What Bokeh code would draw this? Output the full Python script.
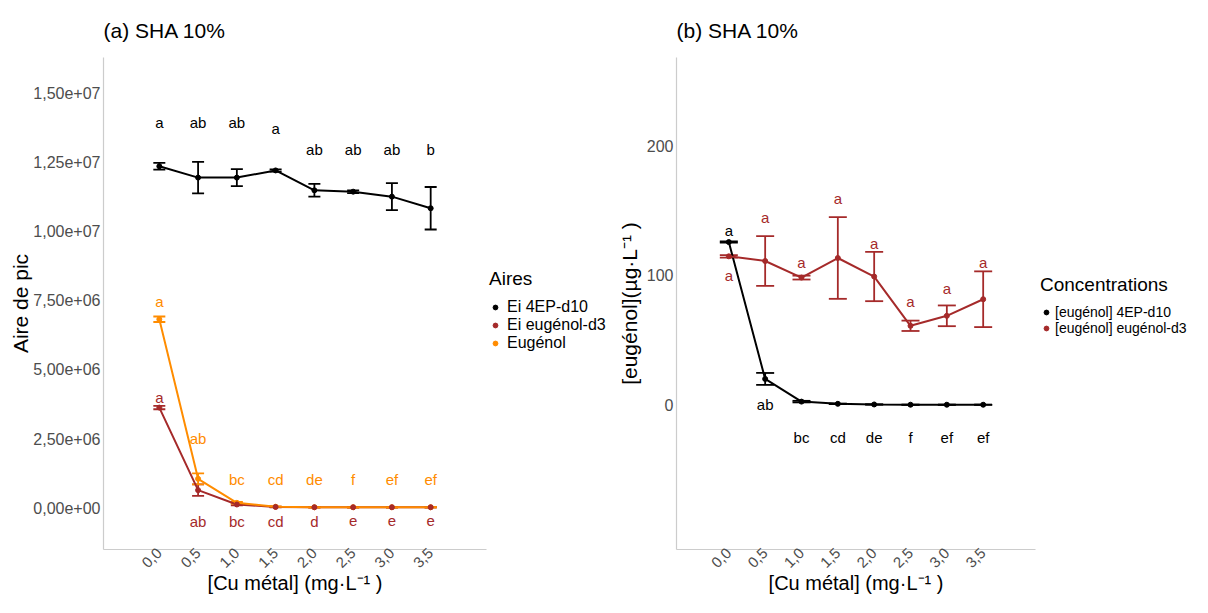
import math
from bokeh.plotting import figure
from bokeh.layouts import row
from bokeh.models import (ColumnDataSource, Whisker, TeeHead, FixedTicker, Legend,
                          LegendItem, Range1d)
from bokeh.embed import file_html
from bokeh.resources import INLINE
from bokeh.core.properties import value

# ---------------- data ----------------
cu = [0.0, 0.5, 1.0, 1.5, 2.0, 2.5, 3.0, 3.5]
cu_tick_labels = ["0,0", "0,5", "1,0", "1,5", "2,0", "2,5", "3,0", "3,5"]

# panel (a) : peak areas
ei_4ep_mean = [12.36e6, 11.95e6, 11.95e6, 12.21e6, 11.49e6, 11.44e6, 11.26e6, 10.84e6]
ei_4ep_sd = [0.12e6, 0.57e6, 0.31e6, 0.04e6, 0.23e6, 0.05e6, 0.49e6, 0.77e6]
ei_eug_mean = [3.62e6, 0.63e6, 0.11e6, 0.02e6, 0.01e6, 0.01e6, 0.01e6, 0.01e6]
ei_eug_sd = [0.06e6, 0.21e6, 0.03e6, 0.01e6, 0.0, 0.0, 0.0, 0.0]
eugenol_mean = [6.82e6, 1.04e6, 0.17e6, 0.03e6, 0.01e6, 0.01e6, 0.01e6, 0.01e6]
eugenol_sd = [0.10e6, 0.20e6, 0.03e6, 0.01e6, 0.0, 0.0, 0.0, 0.0]

ei_4ep_letters = ["a", "ab", "ab", "a", "ab", "ab", "ab", "b"]
ei_4ep_letters_y = [13.96e6, 13.96e6, 13.96e6, 13.72e6, 12.96e6, 12.96e6, 12.96e6, 12.96e6]
eugenol_letters = ["a", "ab", "bc", "cd", "de", "f", "ef", "ef"]
eugenol_letters_y = [7.48e6, 2.50e6, 1.01e6, 1.01e6, 1.01e6, 1.01e6, 1.01e6, 1.01e6]
ei_eug_letters = ["a", "ab", "bc", "cd", "d", "e", "e", "e"]
ei_eug_letters_y = [4.0e6, -0.49e6, -0.49e6, -0.49e6, -0.49e6, -0.49e6, -0.49e6, -0.49e6]

area_ticks = [0, 2500000, 5000000, 7500000, 10000000, 12500000, 15000000]
area_tick_labels = ["0,00e+00", "2,50e+06", "5,00e+06", "7,50e+06",
                    "1,00e+07", "1,25e+07", "1,50e+07"]

# panel (b) : concentrations
conc_4ep_mean = [125.6, 20.0, 2.5, 0.8, 0.3, 0.1, 0.1, 0.1]
conc_4ep_sd = [0.5, 4.6, 0.6, 0.2, 0.1, 0.0, 0.0, 0.0]
conc_eug_mean = [114.6, 111.0, 98.2, 113.3, 99.0, 61.0, 68.7, 81.5]
conc_eug_sd = [1.0, 19.2, 1.5, 31.5, 19.0, 4.0, 8.0, 21.5]

conc_4ep_letters = ["a", "ab", "bc", "cd", "de", "f", "ef", "ef"]
conc_4ep_letters_y = [134.6, 0.0, -24.9, -24.9, -24.9, -24.9, -24.9, -24.9]
conc_eug_letters = ["a", "a", "a", "a", "a", "a", "a", "a"]
conc_eug_letters_y = [99.5, 144.6, 109.5, 159.5, 124.8, 79.5, 89.7, 109.5]

conc_ticks = [0, 100, 200]
conc_tick_labels = ["0", "100", "200"]

legend_a_labels = ["Ei 4EP-d10", "Ei eugénol-d3", "Eugénol"]
legend_b_labels = ["[eugénol] 4EP-d10", "[eugénol] eugénol-d3"]

# ---------------- style ----------------
FONT = "Liberation Sans"
BLACK = "#000000"
RED = "#A52A2A"
ORANGE = "#FF8C00"
AXIS_GRAY = "#CCCCCC"
TICK_GRAY = "#4D4D4D"
H = 597


def make_fig(width, min_left, min_right, yr, title, ticks, tick_labels, ylabel,
             ylabel_standoff):
    p = figure(width=width, height=H, x_range=Range1d(-0.72, 4.22),
               y_range=Range1d(*yr), output_backend="svg", toolbar_location=None,
               min_border_left=min_left, min_border_right=min_right,
               min_border_top=57, min_border_bottom=20, title=title)
    p.title.align = "left"
    p.title.text_font = FONT
    p.title.text_font_size = "21px"
    p.title.text_font_style = "normal"
    p.title.text_color = "#000000"
    p.title.standoff = 31
    p.grid.visible = False
    p.outline_line_color = None
    p.background_fill_color = "white"
    p.border_fill_color = "white"

    p.xaxis.ticker = FixedTicker(ticks=cu)
    p.xaxis.major_label_overrides = {c: l for c, l in zip(cu, cu_tick_labels)}
    p.xaxis.major_label_orientation = math.pi / 4
    p.xaxis.axis_label = "[Cu métal] (mg·L⁻¹ )"

    p.yaxis.ticker = FixedTicker(ticks=ticks)
    p.yaxis.major_label_overrides = {t: l for t, l in zip(ticks, tick_labels)}
    p.yaxis.axis_label = ylabel

    for ax in p.axis:
        ax.axis_line_color = AXIS_GRAY
        ax.axis_line_width = 1.2
        ax.major_tick_line_color = None
        ax.minor_tick_line_color = None
        ax.major_tick_in = 0
        ax.major_tick_out = 0
        ax.major_label_text_font = FONT
        ax.major_label_text_font_size = "16px"
        ax.major_label_text_color = TICK_GRAY
        ax.major_label_standoff = 3
        ax.axis_label_text_font = FONT
        ax.axis_label_text_font_size = "21px"
        ax.axis_label_text_font_style = "normal"
        ax.axis_label_text_color = "#000000"
    p.yaxis.axis_label_standoff = ylabel_standoff
    p.xaxis.major_label_text_font_size = "15px"
    p.xaxis.axis_label_text_font_size = "20px"
    p.xaxis.major_label_standoff = 1
    p.xaxis.axis_label_standoff = -3
    return p


def add_series(p, mean, sd, color, cap):
    src = ColumnDataSource(dict(
        x=cu, y=mean,
        upper=[m + s for m, s in zip(mean, sd)],
        lower=[m - s for m, s in zip(mean, sd)]))
    p.line("x", "y", source=src, line_color=color, line_width=2)
    w = Whisker(base="x", upper="upper", lower="lower", source=src,
                line_color=color, line_width=1.8,
                upper_head=TeeHead(size=cap, line_color=color, line_width=1.8),
                lower_head=TeeHead(size=cap, line_color=color, line_width=1.8))
    p.add_layout(w)
    return src


def add_points(p, src, color):
    return p.scatter("x", "y", source=src, size=5, fill_color=color, line_color=color)


def add_letters(p, letters, ys, color):
    p.text(x=cu, y=ys, text=letters, text_align="center", text_baseline="middle",
           text_font=value(FONT), text_font_size="15px", text_color=color)


def legend_fig(width, labels, colors, title, loc, label_size, standoff, title_standoff):
    lf = figure(width=width, height=H, x_range=Range1d(0, 1), y_range=Range1d(0, 1),
                x_axis_type=None, y_axis_type=None, output_backend="svg",
                toolbar_location=None, min_border=0)
    lf.grid.visible = False
    lf.outline_line_color = None
    items = []
    for lab, col in zip(labels, colors):
        r = lf.scatter(x=[-5], y=[-5], size=5, fill_color=col, line_color=col)
        items.append(LegendItem(label=lab, renderers=[r]))
    leg = Legend(items=items, title=title, location=loc)
    leg.title_text_font = FONT
    leg.title_text_font_size = "19px"
    leg.title_text_font_style = "normal"
    leg.title_text_color = "#000000"
    leg.title_standoff = title_standoff
    leg.label_text_font = FONT
    leg.label_text_font_size = label_size
    leg.label_text_color = "#000000"
    leg.glyph_width = 12
    leg.glyph_height = 12
    leg.label_height = 10
    leg.label_standoff = standoff
    leg.spacing = 0
    leg.padding = 0
    leg.margin = 0
    leg.border_line_color = None
    leg.background_fill_alpha = 0
    lf.add_layout(leg)
    return lf


# ---------------- panel (a) ----------------
p1 = make_fig(488, 103, 2, (-1.52e6, 16.3e6), "(a) SHA 10%",
              area_ticks, area_tick_labels, "Aire de pic", -2)
s_black = add_series(p1, ei_4ep_mean, ei_4ep_sd, BLACK, 12)
s_red = add_series(p1, ei_eug_mean, ei_eug_sd, RED, 12)
s_orange = add_series(p1, eugenol_mean, eugenol_sd, ORANGE, 12)
add_points(p1, s_black, BLACK)
add_points(p1, s_orange, ORANGE)
add_points(p1, s_red, RED)
add_letters(p1, ei_4ep_letters, ei_4ep_letters_y, BLACK)
add_letters(p1, eugenol_letters, eugenol_letters_y, ORANGE)
add_letters(p1, ei_eug_letters, ei_eug_letters_y, RED)

lf1 = legend_fig(126, legend_a_labels, [BLACK, RED, ORANGE], "Aires", (1, 197),
                 "16px", 6, 8)

# ---------------- panel (b) ----------------
p2 = make_fig(426, 60, 5, (-111.6, 268), "(b) SHA 10%",
              conc_ticks, conc_tick_labels, "[eugénol](µg·L⁻¹ )", 3)
c_black = add_series(p2, conc_4ep_mean, conc_4ep_sd, BLACK, 18)
c_red = add_series(p2, conc_eug_mean, conc_eug_sd, RED, 18)
add_points(p2, c_black, BLACK)
add_points(p2, c_red, RED)
add_letters(p2, conc_4ep_letters, conc_4ep_letters_y, BLACK)
add_letters(p2, conc_eug_letters, conc_eug_letters_y, RED)

lf2 = legend_fig(152, legend_b_labels, [BLACK, RED], "Concentrations", (0, 213),
                 "14px", 3, 8)

layout = row(p1, lf1, p2, lf2)
open("out.html", "w").write(file_html(layout, INLINE))
